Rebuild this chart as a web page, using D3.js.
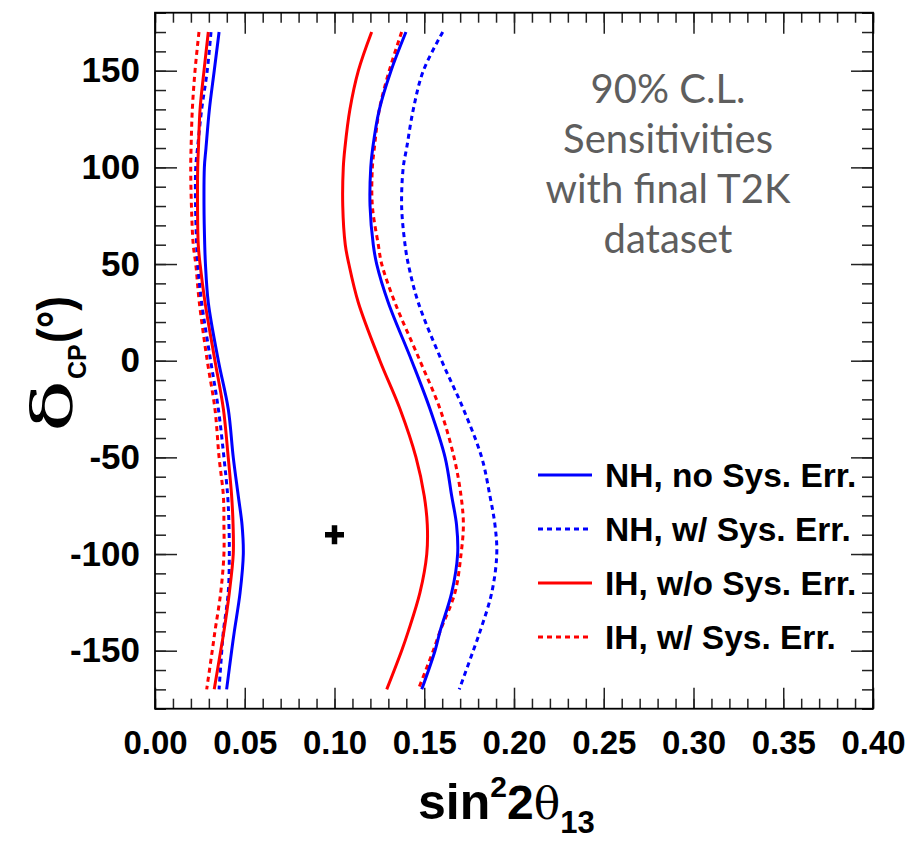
<!DOCTYPE html>
<html><head><meta charset="utf-8">
<script src="https://cdn.jsdelivr.net/npm/d3@7"></script>
<style>body{margin:0;background:#fff}</style>
</head><body>
<script>
// ---- data ----
const deltaCP = [170,150,130,110,100,80,60,50,30,0,-25,-50,-70,-85,-100,-120,-140,-150,-170];
// NH, no Sys. Err. (blue solid)
const nhNoSysLeft  = [0.0357,0.0330,0.0303,0.0284,0.0275,0.0273,0.0277,0.0281,0.0297,0.0353,0.0408,0.0436,0.0464,0.0485,0.0492,0.0474,0.0442,0.0427,0.0399];
const nhNoSysRight = [0.1398,0.1315,0.1250,0.1213,0.1202,0.1198,0.1216,0.1235,0.1300,0.1430,0.1532,0.1616,0.1653,0.1680,0.1686,0.1653,0.1588,0.1560,0.1486];
// NH, w/ Sys. Err. (blue dotted)
const nhSysLeft    = [0.0312,0.0291,0.0260,0.0237,0.0227,0.0226,0.0232,0.0238,0.0260,0.0310,0.0353,0.0384,0.0405,0.0412,0.0414,0.0408,0.0381,0.0372,0.0357];
const nhSysRight   = [0.1603,0.1495,0.1439,0.1402,0.1383,0.1374,0.1393,0.1411,0.1467,0.1597,0.1718,0.1820,0.1866,0.1894,0.1904,0.1876,0.1811,0.1773,0.1695];
// IH, w/o Sys. Err. (red solid)
const ihNoSysLeft  = [0.0297,0.0273,0.0251,0.0242,0.0238,0.0237,0.0241,0.0251,0.0279,0.0334,0.0381,0.0408,0.0427,0.0435,0.0436,0.0414,0.0384,0.0366,0.0330];
const ihNoSysRight = [0.1207,0.1133,0.1086,0.1058,0.1049,0.1046,0.1060,0.1080,0.1133,0.1253,0.1365,0.1454,0.1500,0.1517,0.1514,0.1476,0.1411,0.1374,0.1291];
// IH, w/ Sys. Err. (red dotted)
const ihSysLeft    = [0.0245,0.0223,0.0208,0.0201,0.0199,0.0203,0.0213,0.0227,0.0247,0.0291,0.0334,0.0357,0.0381,0.0384,0.0384,0.0366,0.0334,0.0319,0.0288];
const ihSysRight   = [0.1374,0.1305,0.1250,0.1222,0.1211,0.1211,0.1244,0.1263,0.1337,0.1476,0.1588,0.1666,0.1705,0.1718,0.1705,0.1671,0.1588,0.1550,0.1467];

const legendLabels = ["NH, no Sys. Err.","NH, w/ Sys. Err.","IH, w/o Sys. Err.","IH, w/ Sys. Err."];
const xTickValues = [0,0.05,0.10,0.15,0.20,0.25,0.30,0.35,0.40];
const xTickLabels = ["0.00","0.05","0.10","0.15","0.20","0.25","0.30","0.35","0.40"];
const yTickValues = [-150,-100,-50,0,50,100,150];
const yTickLabels = ["-150","-100","-50","0","50","100","150"];
const bestFitPoint = [{s:0.10, d:-90}];
const noteLines = ["90% C.L.","Sensitivities","with final T2K","dataset"];

// ---- build ----
const W=917,H=841;
const L=155,R=873,T=12.7,B=708.7;
const x=d3.scaleLinear([0,0.4],[L,R]);
const y=d3.scaleLinear([-180,180],[B,T]);

const svg=d3.select("body").append("svg").attr("width",W).attr("height",H)
  .style("background","#fff");

const series=[
  {name:legendLabels[0],color:"#0000ff",dash:null,left:nhNoSysLeft,right:nhNoSysRight},
  {name:legendLabels[1],color:"#0000ff",dash:"5,4",left:nhSysLeft,right:nhSysRight},
  {name:legendLabels[2],color:"#ff0000",dash:null,left:ihNoSysLeft,right:ihNoSysRight},
  {name:legendLabels[3],color:"#ff0000",dash:"5,4",left:ihSysLeft,right:ihSysRight}
];

const line=d3.line().x(d=>x(d[0])).y(d=>y(d[1])).curve(d3.curveCatmullRom.alpha(0.5));
const order=[3,1,2,0];
order.forEach(i=>{
  const s=series[i];
  [s.left,s.right].forEach(arr=>{
    const pts=arr.map((v,k)=>[v,deltaCP[k]]);
    svg.append("path").attr("d",line(pts)).attr("fill","none")
      .attr("stroke",s.color).attr("stroke-width",3)
      .attr("stroke-dasharray",s.dash);
  });
});

// best fit marker
svg.selectAll(".bf").data(bestFitPoint).enter().append("path")
  .attr("d",d=>`M${x(d.s)-9.5},${y(d.d)}H${x(d.s)+9.5}M${x(d.s)},${y(d.d)-9.5}V${y(d.d)+9.5}`)
  .attr("stroke","#000").attr("stroke-width",5.5).attr("fill","none");

// axes
const minorX=d3.range(0,0.4001,0.01);
const minorY=d3.range(-180,180.001,10);
const tickCol="#222";
function styleAxis(g){g.select(".domain").remove();g.selectAll("line").attr("stroke",tickCol).attr("stroke-width",1.5);}

svg.append("g").attr("transform",`translate(0,${B})`)
  .call(d3.axisBottom(x).tickValues(minorX).tickSize(-10).tickFormat("")).call(styleAxis);
svg.append("g").attr("transform",`translate(0,${B})`)
  .call(d3.axisBottom(x).tickValues(xTickValues).tickSize(-21).tickPadding(22).tickFormat((d,i)=>xTickLabels[i]))
  .call(styleAxis)
  .selectAll("text").attr("font-family","'Liberation Sans',Arial,sans-serif").attr("font-weight","bold")
  .attr("font-size",33).attr("fill","#000");
svg.append("g").attr("transform",`translate(0,${T})`)
  .call(d3.axisTop(x).tickValues(minorX).tickSize(-10).tickFormat("")).call(styleAxis);
svg.append("g").attr("transform",`translate(0,${T})`)
  .call(d3.axisTop(x).tickValues(xTickValues).tickSize(-21).tickFormat("")).call(styleAxis);

svg.append("g").attr("transform",`translate(${L},0)`)
  .call(d3.axisLeft(y).tickValues(minorY).tickSize(-11).tickFormat("")).call(styleAxis);
svg.append("g").attr("transform",`translate(${L},0)`)
  .call(d3.axisLeft(y).tickValues(yTickValues).tickSize(-22).tickPadding(15).tickFormat((d,i)=>yTickLabels[i]))
  .call(styleAxis)
  .selectAll("text").attr("font-family","'Liberation Sans',Arial,sans-serif").attr("font-weight","bold")
  .attr("font-size",35).attr("fill","#000");
svg.append("g").attr("transform",`translate(${R},0)`)
  .call(d3.axisRight(y).tickValues(minorY).tickSize(-11).tickFormat("")).call(styleAxis);
svg.append("g").attr("transform",`translate(${R},0)`)
  .call(d3.axisRight(y).tickValues(yTickValues).tickSize(-22).tickFormat("")).call(styleAxis);

// frame
svg.append("rect").attr("x",L).attr("y",T).attr("width",R-L).attr("height",B-T)
  .attr("fill","none").attr("stroke","#000").attr("stroke-width",1.8);

// x title
const xt=svg.append("text").attr("x",418).attr("y",819)
  .attr("font-family","'Liberation Sans',Arial,sans-serif").attr("font-weight","bold").attr("fill","#000");
xt.append("tspan").attr("font-size",50).text("sin");
xt.append("tspan").attr("font-size",30).attr("dy",-22).text("2");
xt.append("tspan").attr("font-size",48).attr("dy",22).text("2");
xt.append("tspan").attr("font-size",44).attr("font-family","'DejaVu Serif',serif").attr("font-weight","normal").text("θ");
xt.append("tspan").attr("font-size",31).attr("dy",14).text("13");

// y title (rotated)
const yg=svg.append("g").attr("transform","rotate(-90)");
yg.append("text").attr("x",-432).attr("y",72).attr("font-size",56)
  .attr("font-family","'DejaVu Serif',serif").attr("textLength",52).attr("lengthAdjust","spacingAndGlyphs")
  .attr("fill","#000").text("δ");
yg.append("text").attr("x",-379).attr("y",86).attr("font-size",25)
  .attr("font-family","'Liberation Sans',Arial,sans-serif").attr("font-weight","bold").attr("fill","#000").text("CP");
yg.append("text").attr("x",-343).attr("y",72).attr("font-size",50)
  .attr("font-family","'Liberation Sans',Arial,sans-serif").attr("font-weight","bold")
  .attr("textLength",47).attr("lengthAdjust","spacingAndGlyphs").attr("fill","#000").text("(°)");

// note
svg.append("g").selectAll("text").data(noteLines).enter().append("text")
  .attr("x",668).attr("y",(d,i)=>103+i*50).attr("text-anchor","middle")
  .attr("font-family","Lato,'Open Sans',sans-serif").attr("font-size",40).attr("fill","#5e5e5e")
  .text(d=>d);

// legend
const lg=svg.append("g");
series.forEach((s,i)=>{
  const yy=475+i*54;
  lg.append("line").attr("x1",538).attr("x2",592).attr("y1",yy).attr("y2",yy)
    .attr("stroke",s.color).attr("stroke-width",3).attr("stroke-dasharray",s.dash);
  lg.append("text").attr("x",605).attr("y",yy+12)
    .attr("font-family","'Liberation Sans',Arial,sans-serif").attr("font-weight","bold")
    .attr("font-size",33.5).attr("fill","#000").text(s.name);
});
</script>
</body></html>
